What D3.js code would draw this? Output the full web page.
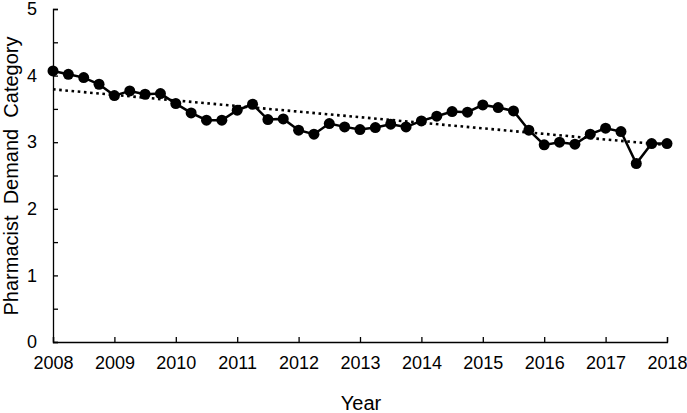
<!DOCTYPE html>
<html>
<head>
<meta charset="utf-8">
<script src="https://cdn.jsdelivr.net/npm/d3@7"></script>
<style>
  body { margin: 0; background: #fff; }
  text { font-family: "Liberation Sans", Arial, sans-serif; fill: #000; }
</style>
</head>
<body>
<svg width="687" height="413"></svg>
<script>
var width = 687,
    height = 413

// quarterly values, 2008 Q1 .. 2018 Q1
var quarters = d3.range(41).map(function(i) { return 2008 + i / 4 })
var demand = [4.07, 4.02, 3.97, 3.87, 3.70, 3.77, 3.72, 3.73, 3.58, 3.44,
              3.33, 3.33, 3.48, 3.57, 3.34, 3.35, 3.18, 3.12, 3.28, 3.23,
              3.19, 3.22, 3.27, 3.23, 3.32, 3.39, 3.46, 3.45, 3.56, 3.52,
              3.47, 3.18, 2.96, 3.00, 2.97, 3.12, 3.21, 3.16, 2.68, 2.98, 2.98]
var yearTicks = d3.range(2008, 2019)
var valueTicks = [0, 1, 2, 3, 4, 5]

var svg = d3.select("svg")

var x = d3.scaleLinear().domain([2008, 2018]).range([53, 667])
var y = d3.scaleLinear().domain([0, 5]).range([342, 9])

var data = quarters.map(function(q, i) { return {x: q, y: demand[i]} })

// least squares trend
var mx = d3.mean(data, function(d) { return d.x }),
    my = d3.mean(data, function(d) { return d.y })
var slope = d3.sum(data, function(d) { return (d.x - mx) * (d.y - my) }) /
            d3.sum(data, function(d) { return (d.x - mx) * (d.x - mx) })
var icpt = my - slope * mx

// axes
var yAxis = d3.axisLeft(y).tickValues(d3.range(0, 5.01, 0.5)).tickSize(-5)
  .tickFormat(function(d) { return valueTicks.indexOf(d) >= 0 ? d : "" })
var gy = svg.append("g").attr("transform", "translate(53,0)").call(yAxis)
gy.selectAll("text").attr("x", -16).style("font-size", "18px")

var xAxis = d3.axisBottom(x).tickValues(yearTicks).tickSize(-5).tickFormat(d3.format("d"))
var gx = svg.append("g").attr("transform", "translate(0,342)").call(xAxis)
gx.selectAll("text").attr("y", 14).style("font-size", "18px")

svg.selectAll(".domain").attr("stroke", "#000").attr("stroke-width", 1.3)
svg.selectAll(".tick line").attr("stroke", "#000").attr("stroke-width", 1.3)

// trend line
svg.append("line")
  .attr("x1", x(2008)).attr("y1", y(icpt + slope * 2008))
  .attr("x2", x(2018)).attr("y2", y(icpt + slope * 2018))
  .attr("stroke", "#000")
  .attr("stroke-width", 2.6)
  .attr("stroke-dasharray", "2.6,3.6")

// series
var line = d3.line().x(function(d) { return x(d.x) }).y(function(d) { return y(d.y) })
svg.append("path")
  .datum(data)
  .attr("d", line)
  .attr("fill", "none")
  .attr("stroke", "#000")
  .attr("stroke-width", 2.5)

svg.selectAll("circle")
  .data(data)
  .enter().append("circle")
  .attr("cx", function(d) { return x(d.x) })
  .attr("cy", function(d) { return y(d.y) })
  .attr("r", 5.5)
  .attr("fill", "#000")

// titles
svg.append("text")
  .attr("x", 361).attr("y", 410)
  .attr("text-anchor", "middle")
  .style("font-size", "20px")
  .text("Year")

svg.append("text")
  .attr("transform", "translate(18,176) rotate(-90)")
  .attr("text-anchor", "middle")
  .style("font-size", "20px")
  .style("white-space", "pre")
  .text("Pharmacist  Demand  Category")
</script>
</body>
</html>
